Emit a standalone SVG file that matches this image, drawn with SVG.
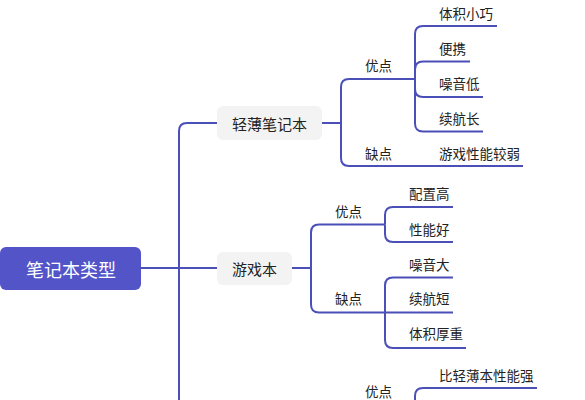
<svg xmlns="http://www.w3.org/2000/svg" width="585" height="400" viewBox="0 0 585 400">
<style>
.c{fill:none;stroke:#4b4fb8;stroke-width:2;stroke-linecap:butt}
text{font-family:"Noto Sans CJK SC","Noto Sans",sans-serif;dominant-baseline:central;fill:#222}
.l{font-size:13.5px}
.m{font-size:15px}
.r{font-size:18px;fill:#fff}
.box{fill:#f3f3f3}
</style>
<rect width="585" height="400" fill="#fff"/>
<g id="connectors">
<path class="c" d="M141,268 H217"/>
<path class="c" d="M179,400 V131 Q179,123 187,123 H217"/>
<path class="c" d="M322,123 H341"/>
<path class="c" d="M341,123 V87 Q341,79 349,79 H415"/>
<path class="c" d="M341,123 V158 Q341,166 349,166 H523"/>
<path class="c" d="M415,79 V34 Q415,26 423,26 H497"/>
<path class="c" d="M415,79 V69.5 Q415,61.5 423,61.5 H470"/>
<path class="c" d="M415,79 V89 Q415,97 423,97 H483"/>
<path class="c" d="M415,79 V123.5 Q415,131.5 423,131.5 H483"/>
<path class="c" d="M292,268 H311"/>
<path class="c" d="M311,268 V232.5 Q311,224.5 319,224.5 H385"/>
<path class="c" d="M311,268 V304.5 Q311,312.5 319,312.5 H385"/>
<path class="c" d="M385,224.5 V215 Q385,207 393,207 H453"/>
<path class="c" d="M385,224.5 V234 Q385,242 393,242 H453"/>
<path class="c" d="M385,312.5 V285.5 Q385,277.5 393,277.5 H453"/>
<path class="c" d="M385,312.5 H453"/>
<path class="c" d="M385,312.5 V340 Q385,348 393,348 H466"/>
<path class="c" d="M415,410 V396 Q415,388 423,388 H537"/>
</g>
<g id="root">
<rect x="0" y="247" width="141" height="43" rx="6" fill="#5254c8"/>
<text class="r" x="71" y="268.5" text-anchor="middle">笔记本类型</text>
</g>
<g id="n-qingbo">
<rect class="box" x="217" y="106" width="105" height="34" rx="6"/>
<text class="m" x="269.5" y="123" text-anchor="middle">轻薄笔记本</text>
</g>
<g id="n-youxi">
<rect class="box" x="217" y="252" width="75" height="33" rx="6"/>
<text class="m" x="254.5" y="268.5" text-anchor="middle">游戏本</text>
</g>
<g id="qb-you"><text class="l" x="365" y="65">优点</text></g>
<g id="qb-que"><text class="l" x="365" y="153">缺点</text></g>
<g id="qb-1"><text class="l" x="439" y="13">体积小巧</text></g>
<g id="qb-2"><text class="l" x="439" y="48">便携</text></g>
<g id="qb-3"><text class="l" x="439" y="83">噪音低</text></g>
<g id="qb-4"><text class="l" x="439" y="118">续航长</text></g>
<g id="qb-5"><text class="l" x="439" y="153">游戏性能较弱</text></g>
<g id="yx-you"><text class="l" x="335" y="211">优点</text></g>
<g id="yx-que"><text class="l" x="335" y="298">缺点</text></g>
<g id="yx-1"><text class="l" x="409" y="193">配置高</text></g>
<g id="yx-2"><text class="l" x="409" y="228.5">性能好</text></g>
<g id="yx-3"><text class="l" x="409" y="263.5">噪音大</text></g>
<g id="yx-4"><text class="l" x="409" y="298">续航短</text></g>
<g id="yx-5"><text class="l" x="409" y="333">体积厚重</text></g>
<g id="t3-you"><text class="l" x="365" y="390.5">优点</text></g>
<g id="t3-1"><text class="l" x="439" y="374.5">比轻薄本性能强</text></g>
</svg>
